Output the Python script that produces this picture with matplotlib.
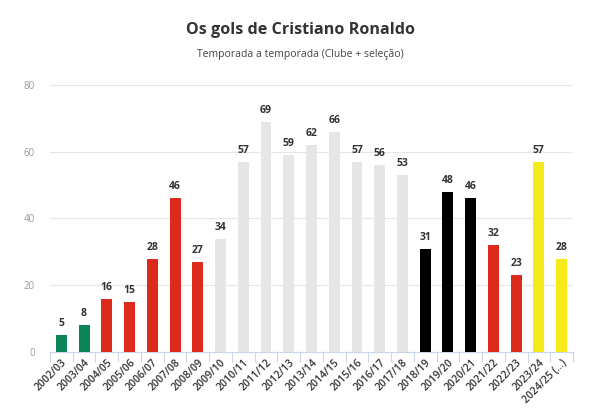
import matplotlib
matplotlib.use("Agg")
import matplotlib.pyplot as plt
from matplotlib.ticker import FixedLocator
from matplotlib import font_manager as fm

seasons = ["2002/03", "2003/04", "2004/05", "2005/06", "2006/07", "2007/08", "2008/09",
           "2009/10", "2010/11", "2011/12", "2012/13", "2013/14", "2014/15", "2015/16",
           "2016/17", "2017/18", "2018/19", "2019/20", "2020/21", "2021/22", "2022/23",
           "2023/24", "2024/25 (...)"]
goals = [5, 8, 16, 15, 28, 46, 27, 34, 57, 69, 59, 62, 66, 57, 56, 53, 31, 48, 46, 32, 23, 57, 28]
clubs = ["Sporting", "Sporting", "Man Utd", "Man Utd", "Man Utd", "Man Utd", "Man Utd",
         "Real", "Real", "Real", "Real", "Real", "Real", "Real", "Real", "Real",
         "Juventus", "Juventus", "Juventus", "Man Utd", "Man Utd", "Al Nassr", "Al Nassr"]
club_colors = {"Sporting": "#0b8457", "Man Utd": "#de2a1c", "Real": "#e6e6e6",
               "Juventus": "#000000", "Al Nassr": "#f5ea1a"}
yticks = [0, 20, 40, 60, 80]


def pick_font(size, target_weight):
    cands = [f for f in fm.fontManager.ttflist
             if f.name == 'Open Sans' and f.style == 'normal'
             and 'condensed' not in f.fname.lower()]
    if not cands:
        return fm.FontProperties(family=['Open Sans', 'DejaVu Sans'], size=size,
                                 weight=target_weight)

    def w(f):
        try:
            return int(f.weight)
        except Exception:
            return {'normal': 400, 'regular': 400, 'bold': 700,
                    'semibold': 600}.get(str(f.weight), 400)
    best = min(cands, key=lambda f: abs(w(f) - target_weight))
    return fm.FontProperties(fname=best.fname, size=size)


fig = plt.figure(figsize=(6, 4.13), dpi=100)
ax = fig.add_axes([0.0833, 0.1477, 0.8717, 0.6465])

x = list(range(len(seasons)))
colors = [club_colors[c] for c in clubs]
ax.bar(x, goals, width=0.48, color=colors, zorder=3)
val_fp = pick_font(7.5, 700)
for xi, g in zip(x, goals):
    ax.text(xi, g + 1.8, str(g), ha='center', va='bottom', fontproperties=val_fp,
            color='#333333', zorder=4)

ax.set_xlim(-0.5, len(seasons) - 0.5)
ax.set_ylim(0, 80)
ax.set_yticks(yticks)
ax.set_yticklabels([str(v) for v in yticks], fontproperties=pick_font(7, 400), color='#999999')
ax.yaxis.grid(True, color='#e6e6e6', linewidth=0.8, zorder=0)
ax.tick_params(axis='y', length=0, pad=11)

ax.set_xticks(x)
ax.set_xticklabels(seasons, rotation=45, ha='right', rotation_mode='anchor',
                   fontproperties=pick_font(7.5, 600), color='#333333')
ax.tick_params(axis='x', which='major', length=0, pad=4)
ax.xaxis.set_minor_locator(FixedLocator([i - 0.5 for i in range(len(seasons) + 1)]))
ax.tick_params(axis='x', which='minor', length=7, color='#ccd6eb', width=0.8)

for s in ['top', 'right', 'left']:
    ax.spines[s].set_visible(False)
ax.spines['bottom'].set_color('#ccd6eb')
ax.spines['bottom'].set_linewidth(0.8)

fig.text(0.5, 0.927, "Os gols de Cristiano Ronaldo", ha='center', va='center',
         fontproperties=pick_font(11.6, 700), color='#333333')
fig.text(0.5, 0.868, "Temporada a temporada (Clube + seleção)", ha='center', va='center',
         fontproperties=pick_font(7.5, 400), color='#444444')

fig.savefig("out.png", dpi=100)
